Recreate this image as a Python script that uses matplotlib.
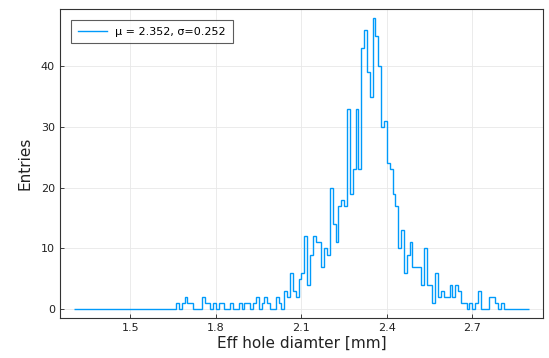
import numpy as np
import matplotlib
matplotlib.use("Agg")
import matplotlib.pyplot as plt

# Histograma del diametro efectivo (conteos leidos por bin de 0.01 mm, desde 1.30)
bin_start = 1.30
bin_width = 0.01
counts = [0] * 36 + [
    1, 0, 1, 2, 1, 1, 0, 0, 0, 2, 1, 1, 0, 1, 0, 1, 1, 0, 0, 1,
    0, 0, 1, 0, 1, 1, 0, 1, 2, 0, 1, 2, 1, 0, 0, 2, 1, 0, 3, 2,
    6, 3, 2, 5, 6, 12, 4, 9, 12, 11, 11, 7, 10, 9, 20, 14, 11, 17, 18, 17,
    33, 19, 23, 33, 23, 43, 46, 39, 35, 48, 45, 40, 30, 31, 24, 23, 19, 17, 10, 13,
    6, 9, 11, 7, 7, 7, 4, 10, 4, 4, 1, 6, 2, 3, 2, 2, 4, 2, 4, 3,
    1, 1, 0, 1, 0, 1, 3, 0, 0, 0, 2, 2, 1, 0, 1,
] + [0] * 9
legend_label = "μ = 2.352, σ=0.252"
x_ticks = [1.5, 1.8, 2.1, 2.4, 2.7]
y_ticks = [0, 10, 20, 30, 40]

edges = bin_start + bin_width * np.arange(len(counts) + 1)

fig = plt.figure(figsize=(5.49, 3.58), dpi=100)
ax = fig.add_axes([0.109, 0.112, 0.88, 0.863])

ax.stairs(counts, edges, color="#009AFA", linewidth=1.0, label=legend_label)

# Margenes tipo Plots.jl (3%)
span = edges[-1] - edges[0]
ax.set_xlim(edges[0] - 0.03 * span, edges[-1] + 0.03 * span)
ymax = max(counts)
ax.set_ylim(-0.03 * ymax, ymax * 1.03)

ax.set_xticks(x_ticks)
ax.set_xticklabels([str(t) for t in x_ticks])
ax.set_yticks(y_ticks)
ax.tick_params(direction="in", length=3, width=0.6, labelsize=8, colors="#222222")
ax.grid(True, color="#e8e8e8", linewidth=0.6)
ax.set_axisbelow(True)
for s in ax.spines.values():
    s.set_color("#333333")
    s.set_linewidth(0.8)

ax.set_xlabel("Eff hole diamter [mm]", fontsize=11, color="#222222", labelpad=2)
ax.set_ylabel("Entries", fontsize=11, color="#222222", labelpad=6)

leg = ax.legend(loc="upper left", fontsize=8, frameon=True, fancybox=False,
                borderaxespad=1.0, handlelength=2.6, borderpad=0.6)
leg.get_frame().set_edgecolor("#333333")
leg.get_frame().set_linewidth(0.8)

fig.savefig("out.png", dpi=100)
